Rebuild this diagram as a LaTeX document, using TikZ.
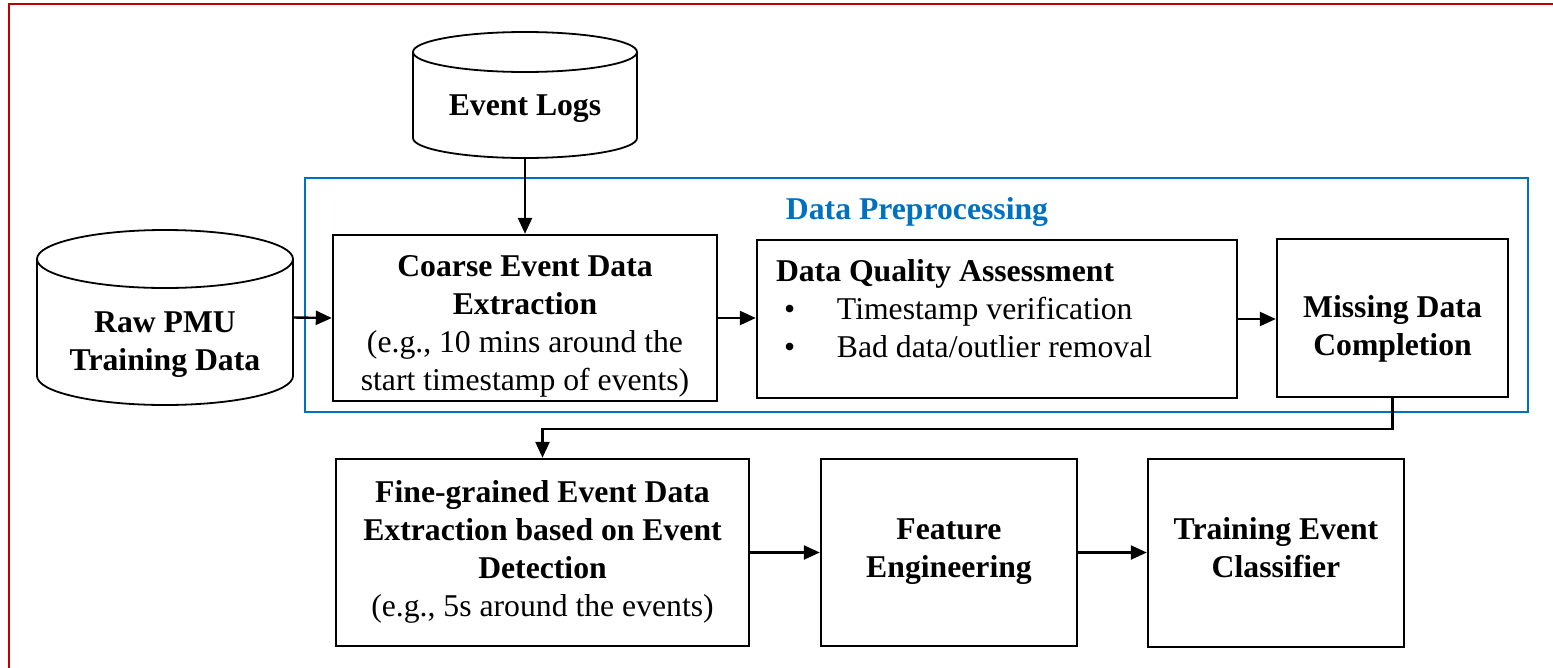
\documentclass[tikz,border=0pt]{standalone}
\usepackage{fontspec}
\setmainfont{Liberation Serif}
\usetikzlibrary{arrows.meta}
\definecolor{framered}{HTML}{C00000}
\definecolor{prepblue}{HTML}{0070C0}
\begin{document}
\begin{tikzpicture}[x=1pt,y=1pt,
  every node/.style={font=\fontsize{31.7}{38}\selectfont, inner sep=0pt},
  procbox/.style={draw, line width=2.4pt},
  boxtext/.style={align=center},
  arr/.style={line width=2.4pt, -{Triangle[length=16pt,width=14pt]}},
  cylline/.style={line width=1.8pt},
  bold/.style={font=\fontsize{31.7}{38}\selectfont\bfseries}]
\useasboundingbox (0,0) rectangle (1553,-667);

% outer frame
\draw[framered, line width=2pt] (9,-670) -- (9,-4) -- (1556,-4);

% preprocessing group
\draw[prepblue, line width=2.2pt] (305,-178) rectangle (1528,-412);
\node[bold, text=prepblue] (preptitle) at (917,-212) {Data Preprocessing};

% database: event logs
\node[minimum width=224pt, minimum height=126pt] (logs) at (525,-95) {};
\draw[cylline] (525,-52) ellipse [x radius=112pt, y radius=20pt];
\draw[cylline] (413,-52) -- (413,-138)
  arc[start angle=180, end angle=360, x radius=112pt, y radius=20pt] -- (637,-52);
\node[bold] (logslabel) at (525,-109) {Event Logs};

% database: raw PMU data
\node[minimum width=256pt, minimum height=175pt] (pmu) at (165,-317.5) {};
\draw[cylline] (165,-259) ellipse [x radius=128pt, y radius=29pt];
\draw[cylline] (37,-259) -- (37,-376)
  arc[start angle=180, end angle=360, x radius=128pt, y radius=29pt] -- (293,-259);
\node[bold, align=center] (pmulabel) at (165,-345) {Raw PMU\\Training Data};

% processing steps (boxes)
\node[procbox, minimum width=384pt, minimum height=166pt] (coarse) at (525,-318) {};
\node[procbox, minimum width=480pt, minimum height=158pt] (dqa) at (997,-319) {};
\node[procbox, minimum width=231pt, minimum height=158pt] (missing) at (1392.5,-318) {};
\node[procbox, minimum width=413pt, minimum height=187pt] (fine) at (542.5,-552.5) {};
\node[procbox, minimum width=256pt, minimum height=187pt] (feature) at (949,-552.5) {};
\node[procbox, minimum width=256pt, minimum height=188pt] (train) at (1276,-553) {};

% processing steps (labels)
\node[boxtext] (coarsetext) at ([yshift=-8pt]coarse.center)
  {\textbf{Coarse Event Data}\\\textbf{Extraction}\\(e.g., 10 mins around the\\start timestamp of events)};
\node[align=left, anchor=west] (dqatext) at ([xshift=20pt,yshift=10pt]dqa.west)
  {\textbf{Data Quality Assessment}\\
   \makebox[61pt][l]{\hspace{8pt}\textbullet}Timestamp verification\\
   \makebox[61pt][l]{\hspace{8pt}\textbullet}Bad data/outlier removal};
\node[boxtext] (missingtext) at ([yshift=-11pt]missing.center)
  {\textbf{Missing Data}\\\textbf{Completion}};
\node[boxtext] (finetext) at ([yshift=1pt]fine.center)
  {\textbf{Fine-grained Event Data}\\\textbf{Extraction based on Event}\\\textbf{Detection}\\(e.g., 5s around the events)};
\node[boxtext] (featuretext) at ([yshift=1pt]feature.center)
  {\textbf{Feature}\\\textbf{Engineering}};
\node[boxtext] (traintext) at ([yshift=5pt]train.center)
  {\textbf{Training Event}\\\textbf{Classifier}};

% connectors
\draw[arr] (logs.south) -- (coarse.north);
\draw[arr] (pmu.east) -- (coarse.west);
\draw[arr] (coarse.east) -- (coarse.east -| dqa.west);
\draw[arr] (dqa.east) -- (dqa.east -| missing.west);
\draw[arr] (missing.south) -- ++(0,-31) -| (fine.north);
\draw[arr] (fine.east) -- (feature.west);
\draw[arr] (feature.east) -- (feature.east -| train.west);
\end{tikzpicture}
\end{document}
